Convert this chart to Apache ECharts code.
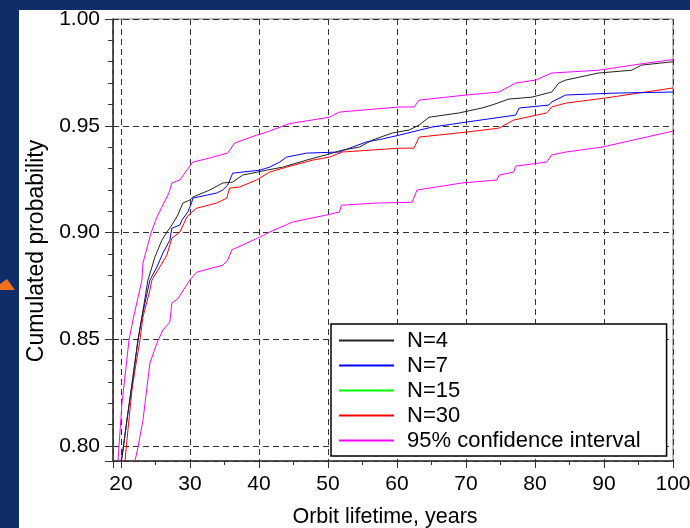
<!DOCTYPE html>
<html>
<head>
<meta charset="utf-8">
<script src="https://cdn.jsdelivr.net/npm/echarts@6/dist/echarts.min.js"></script>
<style>
html,body{margin:0;padding:0;background:#0f2d69;}
#wrap{position:relative;width:690px;height:528px;overflow:hidden;background:#0f2d69;}
#panel{position:absolute;left:19px;top:10px;width:671px;height:518px;background:#fff;}
#tri{position:absolute;left:0;top:0;width:20px;height:528px;}
#chart{position:absolute;left:0;top:0;width:690px;height:528px;}
</style>
</head>
<body>
<div id="wrap">
  <div id="panel"></div>
  <svg id="tri" width="20" height="528"><polygon points="0,290 15,290 7,279 0,284" fill="#f07020"/></svg>
  <div id="chart"></div>
</div>
<script>
// ---- data ----
const seriesNames = ['N=4', 'N=7', 'N=15', 'N=30', '95% confidence interval'];
const xTickLabels = [20, 30, 40, 50, 60, 70, 80, 90, 100];
const yTickLabels = ['0.80', '0.85', '0.90', '0.95', '1.00'];

const n4 = [[20.0,0.7929],[20.14,0.7948],[21.0,0.8154],[21.73,0.8322],[22.46,0.8496],[23.03,0.8604],[23.9,0.8777],[24.48,0.8838],[24.91,0.8885],[25.92,0.8964],[26.65,0.9002],[27.37,0.9035],[28.24,0.9082],[28.96,0.9138],[29.97,0.9152],[30.4,0.9166],[32.86,0.9199],[34.74,0.9232],[36.19,0.9236],[37.63,0.9269],[41.1,0.9292],[43.41,0.9306],[46.88,0.9339],[50.64,0.9372],[52.08,0.9386],[54.54,0.940],[56.42,0.9433],[59.31,0.9466],[61.76,0.948],[63.2,0.9503],[64.65,0.954],[68.99,0.956],[72.31,0.9583],[73.76,0.9597],[76.21,0.9625],[79.54,0.9634],[82.43,0.9658],[83.44,0.970],[84.45,0.9714],[89.22,0.9747],[93.99,0.976],[95.43,0.9784],[100,0.980]];

const n7 = [[20.0,0.7929],[20.14,0.7948],[21.0,0.8154],[21.73,0.8322],[22.46,0.8496],[23.03,0.8604],[24.19,0.8777],[25.2,0.8838],[26.07,0.8904],[27.08,0.8964],[27.37,0.902],[28.53,0.9035],[28.82,0.9058],[29.68,0.9096],[30.26,0.9142],[30.4,0.9161],[32.43,0.9175],[33.87,0.9185],[34.74,0.9199],[35.46,0.9222],[36.19,0.9278],[40.09,0.9292],[41.53,0.9306],[42.98,0.933],[43.99,0.9353],[46.88,0.9372],[51.65,0.9377],[53.53,0.940],[55.55,0.9424],[57.86,0.9438],[60.3,0.9456],[65.1,0.9494],[70.0,0.9517],[77.2,0.955],[77.7,0.9583],[82.0,0.9597],[82.4,0.9611],[84.45,0.9644],[91.7,0.9653],[100,0.9658]];

const n15 = [];

const n30 = [[20.58,0.7929],[21.0,0.8074],[21.59,0.8262],[22.02,0.8355],[22.75,0.8496],[23.18,0.8604],[24.19,0.873],[24.48,0.8777],[25.35,0.8824],[26.65,0.8894],[27.37,0.8974],[28.53,0.9002],[29.54,0.9072],[30.26,0.9096],[30.98,0.9114],[33.87,0.9138],[35.32,0.9161],[35.75,0.9208],[37.2,0.9213],[39.65,0.9246],[41.53,0.9283],[43.99,0.9306],[47.75,0.9339],[50.2,0.9353],[52.08,0.9377],[60.3,0.9395],[62.46,0.9395],[63.2,0.9447],[70.0,0.947],[74.77,0.9489],[76.94,0.9527],[79.54,0.9545],[81.7,0.956],[82.43,0.9588],[84.45,0.9606],[90.23,0.963],[95.0,0.9653],[100,0.9677]];

const ciUpper = [[19.57,0.7929],[19.71,0.800],[20.14,0.820],[21.16,0.8496],[21.73,0.859],[23.03,0.8777],[23.18,0.8857],[24.34,0.8997],[25.2,0.9072],[25.92,0.9119],[26.94,0.9185],[27.37,0.9232],[28.53,0.9246],[29.54,0.9292],[30.4,0.933],[32.86,0.9349],[35.46,0.9372],[36.47,0.9419],[39.65,0.9456],[41.1,0.947],[44.4,0.951],[50.2,0.954],[51.65,0.9564],[60.3,0.9588],[62.5,0.9588],[63.2,0.962],[70.0,0.9644],[74.8,0.9658],[77.2,0.970],[80.1,0.9714],[82.4,0.9747],[89.2,0.976],[95.4,0.979],[100,0.981]];

const ciLower = [[22.02,0.7929],[22.46,0.7994],[23.18,0.812],[24.19,0.8388],[25.2,0.8482],[26.07,0.8543],[27.08,0.858],[27.37,0.867],[28.24,0.869],[29.97,0.8777],[30.98,0.8814],[34.74,0.8847],[35.46,0.887],[36.04,0.8918],[40.09,0.8978],[41.53,0.9002],[44.86,0.9049],[49.77,0.9082],[51.65,0.9096],[51.94,0.9128],[57.0,0.9138],[62.2,0.9142],[62.9,0.9199],[69.4,0.9232],[74.5,0.9246],[74.8,0.9269],[76.9,0.9283],[77.2,0.9311],[81.7,0.933],[82.4,0.9363],[84.5,0.9377],[89.7,0.940],[100,0.9475]];

const colors = ['#222222', '#0000ff', '#00ff00', '#ff0000', '#ff00ff'];

const chart = echarts.init(document.getElementById('chart'), null, {renderer: 'canvas'});
const font = '"Liberation Sans", Arial, sans-serif';

function mk(name, data, color, z) {
  return {
    name: name, type: 'line', data: data, showSymbol: false, symbol: 'none',
    color: color,
    lineStyle: {color: color, width: 1}, itemStyle: {color: color},
    animation: false, z: z, clip: true
  };
}

chart.setOption({
  animation: false,
  backgroundColor: 'transparent',
  grid: {left: 113, top: 19, right: 17, bottom: 67, show: true, borderColor: '#777', borderWidth: 1, backgroundColor: 'transparent', containLabel: false, outerBoundsMode: 'none'},
  legend: {
    data: seriesNames.slice(),
    orient: 'vertical', left: 331, top: 324,
    itemWidth: 55, itemHeight: 14, itemGap: 0,
    itemStyle: {opacity: 0},
    padding: [4, 26, 3, 7],
    backgroundColor: '#fff', borderColor: '#000', borderWidth: 1.5, borderRadius: 0,
    selectedMode: false,
    textStyle: {fontFamily: font, fontSize: 22, color: '#000', lineHeight: 25, padding: [0, 0, 0, 8]}
  },
  xAxis: {
    type: 'value', min: 18.84, max: 100, minInterval: 10, maxInterval: 10, splitNumber: 8,
    name: 'Orbit lifetime, years', nameLocation: 'middle', nameGap: 45,
    nameTextStyle: {fontFamily: font, fontSize: 21.5, color: '#000', padding: [0, 16, 0, 0]},
    axisLine: {show: true, lineStyle: {color: '#333', width: 1.5}},
    axisTick: {show: true, length: 7, lineStyle: {color: '#333', width: 1}},
    minorTick: {show: true, splitNumber: 2, length: 4, lineStyle: {color: '#333', width: 1}},
    axisLabel: {fontFamily: font, fontSize: 21, color: '#000', margin: 13, showMinLabel: false,
      formatter: function (v) { return xTickLabels.indexOf(Math.round(v)) >= 0 && Math.abs(v - Math.round(v)) < 1e-6 ? String(Math.round(v)) : ''; }},
    splitLine: {show: true, lineStyle: {color: '#333', type: [6, 4], width: 1}}
  },
  yAxis: {
    type: 'value', min: 0.793, max: 1.0, minInterval: 0.05, maxInterval: 0.05, splitNumber: 4,
    name: 'Cumulated probability', nameLocation: 'middle', nameGap: 63, nameRotate: 90,
    nameTextStyle: {fontFamily: font, fontSize: 23, color: '#000', padding: [0, 22, 0, 0]},
    axisLine: {show: true, lineStyle: {color: '#333', width: 1.5}},
    axisTick: {show: true, length: 8, lineStyle: {color: '#333', width: 1}},
    minorTick: {show: true, splitNumber: 5, length: 5, lineStyle: {color: '#333', width: 1}},
    axisLabel: {fontFamily: font, fontSize: 21, color: '#000', margin: 13, showMinLabel: false,
      formatter: function (v) { const s = v.toFixed(2); return yTickLabels.indexOf(s) >= 0 && Math.abs(v - parseFloat(s)) < 1e-6 ? s : ''; }},
    splitLine: {show: true, lineStyle: {color: '#333', type: [6, 4], width: 1}}
  },
  series: [
    mk(seriesNames[4], ciUpper, colors[4], 2),
    mk(seriesNames[4], ciLower, colors[4], 2),
    mk(seriesNames[2], n15, colors[2], 3),
    mk(seriesNames[3], n30, colors[3], 4),
    mk(seriesNames[1], n7, colors[1], 5),
    mk(seriesNames[0], n4, colors[0], 6)
  ]
});
</script>
</body>
</html>
